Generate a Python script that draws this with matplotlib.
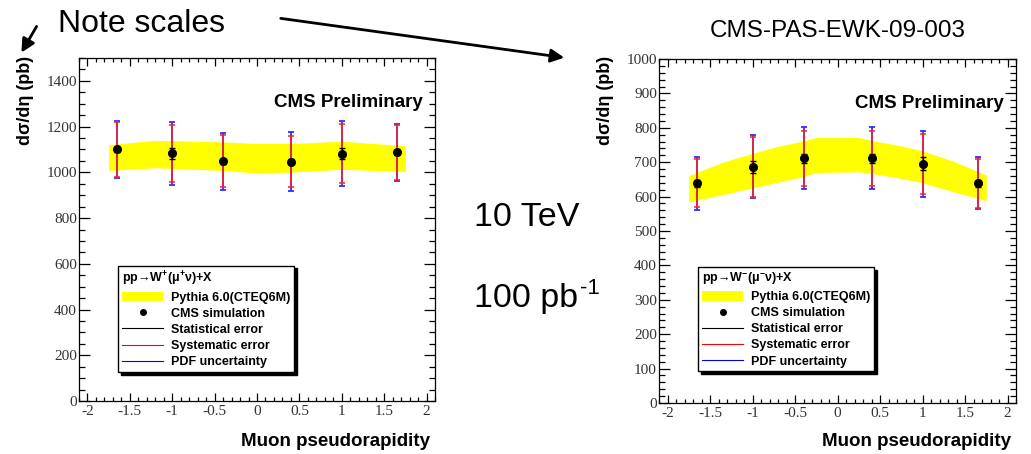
import matplotlib
matplotlib.use("Agg")

import matplotlib.pyplot as plt
from matplotlib.lines import Line2D
from matplotlib.patches import Patch
from matplotlib.ticker import MultipleLocator
import numpy as np

plt.rcParams["font.family"] = ["Liberation Sans", "DejaVu Sans"]
plt.rcParams["axes.unicode_minus"] = False
plt.rcParams["mathtext.default"] = "regular"

# measured points (muon eta bins)
eta = np.array([-1.65, -1.0, -0.4, 0.4, 1.0, 1.65])

wp_xsec = np.array([1100, 1083, 1048, 1047, 1082, 1087])
wp_stat = np.array([12, 25, 12, 12, 25, 12])
wp_syst = np.array([121, 126, 114, 112, 129, 120])
wp_pdf = np.array([125, 138, 126, 129, 141, 126])

wm_xsec = np.array([639, 687, 711, 711, 695, 639])
wm_stat = np.array([10, 17, 14, 14, 19, 10])
wm_syst = np.array([70, 87, 80, 80, 87, 71])
wm_pdf = np.array([77, 91, 90, 90, 95, 76])

# Pythia 6.0 (CTEQ6M) prediction band
wp_band_eta = np.array([-1.75, -1.2, -0.4, 0.0, 0.4, 1.0, 1.75])
wp_band_hi = np.array([1121, 1140, 1133, 1126, 1126, 1136, 1116])
wp_band_lo = np.array([1008, 1020, 1008, 997, 1001, 1013, 1004])

wm_band_eta = np.array([-1.75, -1.35, -1.0, -0.7, -0.4, -0.25,
                        0.25, 0.4, 0.7, 1.0, 1.35, 1.75])
wm_band_hi = np.array([661, 700, 726, 746, 762, 772, 772, 763, 750, 733, 704, 663])
wm_band_lo = np.array([585, 606, 625, 642, 658, 670, 672, 667, 655, 640, 615, 588])

W, H = 1031, 454
fig = plt.figure(figsize=(W / 100, H / 100), dpi=100)


def make_panel(rect, xsec, stat, syst, pdf, b_eta, b_hi, b_lo,
               ymax, ymaj, ymin, title, ylab_x):
    ax = fig.add_axes(rect)
    ax.fill_between(b_eta, b_lo, b_hi, color="#ffff00", lw=0, zorder=1)
    ax.errorbar(eta, xsec, yerr=pdf, fmt="none", ecolor="#3030ff",
                elinewidth=1.3, capsize=2.5, capthick=1.3, zorder=2)
    ax.errorbar(eta, xsec, yerr=syst, fmt="none", ecolor="#ff2020",
                elinewidth=1.3, capsize=2.5, capthick=1.3, alpha=0.85, zorder=3)
    ax.errorbar(eta, xsec, yerr=stat, fmt="none", ecolor="black",
                elinewidth=1.0, capsize=2.5, capthick=1.0, zorder=4)
    ax.plot(eta, xsec, "o", color="black", ms=5.5, zorder=5)

    ax.set_xlim(-2.1, 2.1)
    ax.set_ylim(0, ymax)
    ax.xaxis.set_major_locator(MultipleLocator(0.5))
    ax.xaxis.set_minor_locator(MultipleLocator(0.1))
    ax.yaxis.set_major_locator(MultipleLocator(ymaj))
    ax.yaxis.set_minor_locator(MultipleLocator(ymin))
    ax.xaxis.set_major_formatter(lambda v, p: f"{v:g}")
    ax.tick_params(which="both", direction="in", top=True, right=True,
                   colors="black", labelcolor="#333333", width=0.9)
    ax.tick_params(axis="y", which="major", length=8, pad=1.5)
    ax.tick_params(axis="y", which="minor", length=4)
    ax.tick_params(axis="x", which="major", length=6, pad=3)
    ax.tick_params(axis="x", which="minor", length=3)
    for lab in ax.get_xticklabels() + ax.get_yticklabels():
        lab.set_family("Liberation Serif")
        lab.set_fontsize(11)
    for s in ax.spines.values():
        s.set_linewidth(0.9)

    ax.text(0.965, 0.87, "CMS Preliminary", transform=ax.transAxes,
            ha="right", va="center", fontsize=13.5, fontweight="bold")

    handles = [
        Patch(facecolor="#ffff00", edgecolor="none"),
        Line2D([], [], marker="o", color="black", ls="none", ms=4),
        Line2D([], [], color="black", lw=0.8),
        Line2D([], [], color="red", lw=0.8),
        Line2D([], [], color="blue", lw=0.8),
    ]
    labels = ["Pythia 6.0(CTEQ6M)", "CMS simulation", "Statistical error",
              "Systematic error", "PDF uncertainty"]
    leg = ax.legend(handles, labels, title=title, alignment="left",
                    loc="upper left", bbox_to_anchor=(0.11, 0.395),
                    borderaxespad=0, fancybox=False, framealpha=1,
                    edgecolor="black", shadow=dict(color="black", alpha=1),
                    prop=dict(size=9, weight="bold"),
                    title_fontproperties=dict(size=9, weight="bold"),
                    handlelength=3.3, handleheight=0.8, labelspacing=0.32,
                    borderpad=0.3, handletextpad=0.6)
    leg.get_frame().set_linewidth(1.0)

    fig.text(ylab_x, 1 - 56 / H, "dσ/dη (pb)", rotation=90, ha="center",
             va="top", fontsize=13, fontweight="bold")
    fig.text(rect[0] + rect[2] - 0.005, 1 - 441 / H, "Muon pseudorapidity",
             ha="right", va="center", fontsize=13.5, fontweight="bold")
    return ax


make_panel([79 / W, 1 - 401 / H, 356 / W, 343 / H],
           wp_xsec, wp_stat, wp_syst, wp_pdf,
           wp_band_eta, wp_band_hi, wp_band_lo,
           1500, 200, 50, "pp→W$^{+}$(μ$^{+}$ν)+X", 25 / W)
make_panel([659 / W, 1 - 403 / H, 357 / W, 344 / H],
           wm_xsec, wm_stat, wm_syst, wm_pdf,
           wm_band_eta, wm_band_hi, wm_band_lo,
           1000, 100, 20, "pp→W$^{-}$(μ$^{-}$ν)+X", 605 / W)

# slide annotations in pixel coordinates
ov = fig.add_axes([0, 0, 1, 1], zorder=10)
ov.set_xlim(0, W)
ov.set_ylim(H, 0)
ov.axis("off")
ov.text(58, 24, "Note scales", fontsize=23, va="center", ha="left")
ov.text(838, 31, "CMS-PAS-EWK-09-003", fontsize=17.5, va="center", ha="center")
ov.text(474, 217, "10 TeV", fontsize=24.5, va="center", ha="left")
lumi = ov.text(474, 298, "100 pb", fontsize=24.5, va="center", ha="left")
fig.canvas.draw()
ext = lumi.get_window_extent()
ov.annotate("-1", xy=(ext.x1, ext.y1), xycoords="figure pixels",
            xytext=(1, 3), textcoords="offset points",
            fontsize=16, va="top", ha="left")
arrow = dict(arrowstyle="-|>", color="black", lw=2, mutation_scale=20)
ov.annotate("", xy=(20, 55), xytext=(38, 24), arrowprops=arrow)
ov.annotate("", xy=(567, 58), xytext=(278, 18), arrowprops=arrow)

fig.savefig("out.png", dpi=100)
